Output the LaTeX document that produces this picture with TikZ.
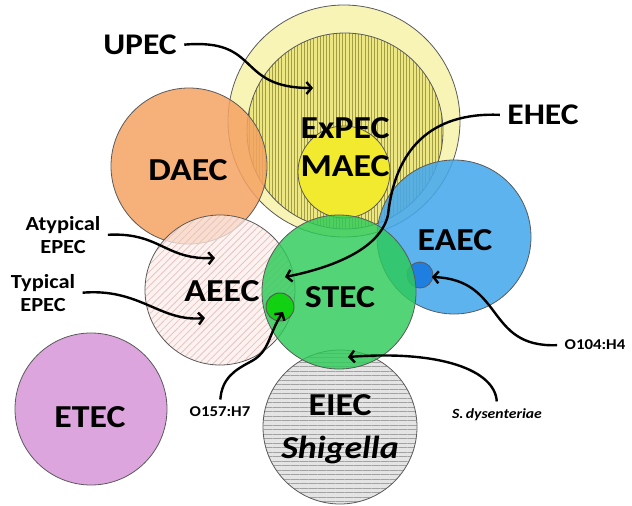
\documentclass[tikz,border=0pt]{standalone}
\usepackage{fontspec}
\setmainfont[FakeStretch=1.12]{Carlito}
\usetikzlibrary{arrows.meta,patterns.meta}
\definecolor{edgegray}{HTML}{5A5A5A}
\definecolor{paleyellow}{HTML}{F7F4B6}
\definecolor{hatchyellow}{HTML}{ECE683}
\definecolor{hatchline}{HTML}{A39E44}
\definecolor{maecyellow}{HTML}{F2EA2E}
\definecolor{daecorange}{HTML}{F5A262}
\definecolor{aeecpink}{HTML}{FBEEEA}
\definecolor{aeecline}{HTML}{E8C2C2}
\definecolor{eaecblue}{HTML}{45A8EC}
\definecolor{dotblue}{HTML}{1F7FE0}
\definecolor{stecgreen}{HTML}{2DCB58}
\definecolor{dotgreen}{HTML}{12D012}
\definecolor{eiecgray}{HTML}{E4E4E4}
\definecolor{eiecline}{HTML}{A2A2A2}
\definecolor{etecpurple}{HTML}{DDA5DE}
\begin{document}
\begin{tikzpicture}[x=1pt,y=-1pt,>={Straight Barb[length=5pt,width=12pt]},
	bigname/.style={font=\bfseries\fontsize{32}{32}\selectfont},
	midname/.style={font=\bfseries\fontsize{30}{30}\selectfont},
	smallname/.style={font=\bfseries\fontsize{20}{23}\selectfont,align=center},
	strain/.style={font=\bfseries\fontsize{15}{15}\selectfont},
	group/.style={circle,draw=edgegray,line width=0.8pt,inner sep=0pt},
	arrowstyle/.style={->,line width=2.4pt,shorten <=4pt}]
	
	\useasboundingbox (0,0) rectangle (632,506);
	
	\node[group,fill=etecpurple,minimum size=152pt](etec) at (91,409) {};
	\node[group,minimum size=154pt,preaction={fill=eiecgray},
		pattern={Lines[angle=0,distance=4.5pt,line width=0.7pt]},pattern color=eiecline](eiec) at (340,427) {};
	\node[group,fill=paleyellow,minimum size=232pt](expec) at (344,121) {};
	\node[group,minimum size=196pt,preaction={fill=hatchyellow},
		pattern={Lines[angle=90,distance=3.2pt,line width=0.55pt]},pattern color=hatchline](expecin) at (345,131) {};
	\node[group,fill=maecyellow,minimum size=92pt](maec) at (344,172) {};
	\node[group,fill=daecorange,fill opacity=0.85,minimum size=156pt](daec) at (189,166) {};
	\node[group,minimum size=150pt,preaction={fill=aeecpink,fill opacity=0.75},
		pattern={Lines[angle=45,distance=5pt,line width=0.8pt]},pattern color=aeecline](aeec) at (220,290) {};
	\node[group,fill=eaecblue,fill opacity=0.88,minimum size=154pt](eaec) at (454,237) {};
	\node[group,fill=dotblue,minimum size=26pt](o104dot) at (420,275) {};
	\node[group,fill=stecgreen,fill opacity=0.82,minimum size=154pt](stec) at (339,292) {};
	\node[group,fill=dotgreen,minimum size=28pt,line width=1pt](o157dot) at (280,307) {};
	
	\node[bigname](expectxt) at (345,128) {ExPEC};
	\node[bigname](maectxt) at (345,166) {MAEC};
	\node[bigname](daectxt) at (188,170) {DAEC};
	\node[bigname](aeectxt) at (222,291) {AEEC};
	\node[bigname](stectxt) at (340,297) {STEC};
	\node[bigname](eaectxt) at (455,240) {EAEC};
	\node[bigname](eiectxt) at (340,405) {EIEC};
	\node[bigname,font=\bfseries\itshape\fontsize{32}{32}\selectfont](shigella) at (340,450) {Shigella};
	\node[bigname](etectxt) at (90,417) {ETEC};
	
	\node[midname](upec) at (140,45) {UPEC};
	\node[midname](ehec) at (543,115) {EHEC};
	\node[smallname](atyp) at (63,235) {Atypical\\EPEC};
	\node[smallname](typ) at (43,293) {Typical\\EPEC};
	\node[strain](o104) at (595,345) {O104:H4};
	\node[strain](o157) at (220,412) {O157:H7};
	\node[strain,font=\bfseries\itshape\fontsize{14}{14}\selectfont](sdys) at (497,415) {S.\,dysenteriae};
	
	\coordinate (upectip) at (313,88);
	\coordinate (ehectip) at (285,277);
	\coordinate (atyptip) at (215,258);
	\coordinate (typtip) at (205,318);
	\coordinate (o157tip) at (283,312);
	\coordinate (sdystip) at (348,357);
	\coordinate (o104tip) at (432,277);
	
	\draw[arrowstyle] (upec.east) .. controls (262,38) and (235,88) .. (upectip);
	\draw[arrowstyle] (ehec.west) .. controls (430,112) and (395,150) .. (388,215)
		.. controls (380,250) and (330,268) .. (ehectip);
	\draw[arrowstyle] (atyp.east) .. controls (160,232) and (165,260) .. (atyptip);
	\draw[arrowstyle] (typ.east) .. controls (140,288) and (160,322) .. (typtip);
	\draw[arrowstyle] (o157.north) .. controls (222,378) and (235,370) .. (250,362)
		.. controls (270,352) and (268,335) .. (o157tip);
	\draw[arrowstyle] (sdys.north) .. controls (495,370) and (440,350) .. (sdystip);
	\draw[arrowstyle] (o104.west) .. controls (485,348) and (505,280) .. (o104tip);
	
\end{tikzpicture}
\end{document}
